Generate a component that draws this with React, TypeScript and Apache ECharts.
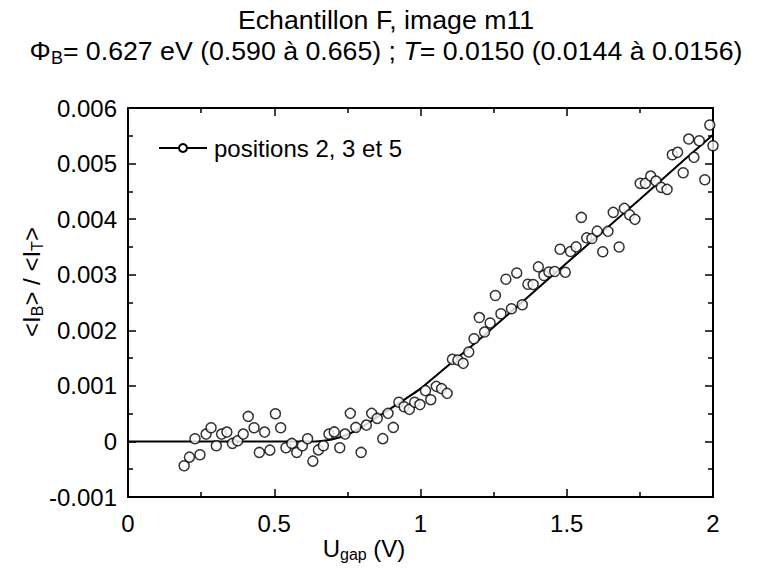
import React, { useEffect, useRef } from "react";
import * as echarts from "echarts";

// Measured points (U_gap in V, <I_B>/<I_T>)
const pointX = [
  0.192, 0.21, 0.229, 0.246, 0.267, 0.284, 0.302, 0.32, 0.338, 0.357,
  0.375, 0.394, 0.411, 0.431, 0.449, 0.467, 0.485, 0.504, 0.522, 0.54,
  0.56, 0.577, 0.596, 0.614, 0.632, 0.651, 0.668, 0.687, 0.705, 0.724,
  0.742, 0.76, 0.779, 0.797, 0.815, 0.833, 0.852, 0.871, 0.889, 0.907,
  0.926, 0.944, 0.962, 0.98, 0.998, 1.017, 1.035, 1.054, 1.072, 1.091,
  1.109, 1.128, 1.146, 1.165, 1.183, 1.201, 1.219, 1.238, 1.256, 1.275,
  1.292, 1.311, 1.329, 1.348, 1.367, 1.385, 1.403, 1.422, 1.439, 1.459,
  1.477, 1.495, 1.513, 1.532, 1.55, 1.568, 1.586, 1.604, 1.623, 1.641,
  1.659, 1.679, 1.697, 1.715, 1.733, 1.751, 1.769, 1.787, 1.805, 1.823,
  1.843, 1.861, 1.879, 1.898, 1.917, 1.935, 1.953, 1.972, 1.989, 2.0,
];
const pointY = [
  -0.000438, -0.000283, 0.000049, -0.00024, 0.000132, 0.000247, -0.000077, 0.000132, 0.000168, -0.000036,
  0.000013, 0.000132, 0.00045, 0.000247, -0.000198, 0.000168, -0.000157, 0.000499, 0.000247, -0.000114,
  -0.000036, -0.000198, -0.000077, 0.000049, -0.000355, -0.000153, -0.000077, 0.000132, 0.000171, -0.000114,
  0.000132, 0.000505, 0.000252, -0.000198, 0.000294, 0.000505, 0.000414, 0.00005, 0.000505, 0.000252,
  0.000706, 0.000625, 0.000577, 0.000706, 0.000663, 0.000914, 0.000751, 0.000991, 0.00095, 0.000865,
  0.001477, 0.001465, 0.001405, 0.001609, 0.001847, 0.002229, 0.001968, 0.002131, 0.002625, 0.002297,
  0.002919, 0.002387, 0.003032, 0.002459, 0.002829, 0.002823, 0.003141, 0.002986, 0.00305, 0.003058,
  0.003459, 0.003045, 0.003418, 0.003501, 0.004031, 0.003663, 0.003652, 0.003784, 0.003414, 0.00378,
  0.004121, 0.003499, 0.004193, 0.004077, 0.003996, 0.004643, 0.004643, 0.004775, 0.004685, 0.004571,
  0.004535, 0.005159, 0.005202, 0.004834, 0.005441, 0.005112, 0.005411, 0.004708, 0.005694, 0.005321,
];

// Fitted curve
const fitX = [0, 0.5, 0.627, 0.65, 0.7, 0.75, 0.8, 0.85, 0.9, 0.95, 1.0, 1.05, 1.1, 1.2, 1.3, 1.4, 1.5, 1.6, 1.7, 1.8, 1.9, 2.0];
const fitY = [0, 0, 0, 0.000004, 0.00004, 0.00012, 0.00026, 0.00043, 0.0006, 0.00077, 0.00095, 0.00117, 0.00139, 0.00183, 0.00229, 0.00275, 0.00321, 0.00367, 0.00413, 0.00459, 0.00506, 0.00552];

const seriesName = "positions 2, 3 et 5";
const titleLine1 = "Echantillon F, image m11";
const FONT = "'Liberation Sans', Arial, Helvetica, sans-serif";

export default function App() {
  const ref = useRef<HTMLDivElement>(null);
  useEffect(() => {
    if (!ref.current) return;
    const chart = echarts.init(ref.current, undefined, { renderer: "svg" });
    const axisCommon = {
      type: "value" as const,
      axisLine: { show: true, onZero: false, lineStyle: { color: "#000", width: 2 } },
      axisTick: { show: true, inside: true, length: 8, lineStyle: { color: "#000", width: 1.5 } },
      minorTick: { show: true, splitNumber: 2, length: 5, lineStyle: { color: "#000", width: 1.5 } },
      splitLine: { show: false },
      minorSplitLine: { show: false },
    };
    const label = { color: "#000", fontSize: 24, fontFamily: FONT };
    const subStyle = { fontSize: 16, lineHeight: 16, padding: [12, 0, 0, 0], fontFamily: FONT, fill: "#000" };
    chart.setOption({
      animation: false,
      backgroundColor: "#fff",
      textStyle: { fontFamily: FONT },
      grid: { left: 128, right: 44, top: 108, bottom: 77, containLabel: false },
      legend: {
        show: true,
        left: 153,
        top: 131,
        itemWidth: 48,
        itemHeight: 10,
        itemGap: 10,
        data: [seriesName],
        textStyle: { ...label, padding: [0, 0, 0, 2] },
      },
      xAxis: [
        {
          ...axisCommon,
          min: 0,
          max: 2,
          interval: 0.5,
          position: "bottom",
          axisLabel: { ...label, margin: 14, formatter: (v: number) => String(v) },
        },
        {
          ...axisCommon,
          min: 0,
          max: 2,
          interval: 0.5,
          position: "top",
          axisLabel: { show: false },
        },
      ],
      yAxis: [
        {
          ...axisCommon,
          min: -0.001,
          max: 0.006,
          interval: 0.001,
          position: "left",
          axisLabel: {
            ...label,
            margin: 11,
            formatter: (v: number) => (Math.abs(v) < 1e-12 ? "0" : String(+v.toFixed(3))),
          },
        },
        {
          ...axisCommon,
          min: -0.001,
          max: 0.006,
          interval: 0.001,
          position: "right",
          axisLabel: { show: false },
        },
      ],
      graphic: [
        {
          type: "text",
          x: 386,
          y: 20,
          style: {
            text: titleLine1,
            fontSize: 26.7,
            fontFamily: FONT,
            fill: "#000",
            align: "center",
            verticalAlign: "middle",
          },
        },
        {
          type: "text",
          x: 386,
          y: 51,
          style: {
            text: "Φ{sub|B}= 0.627 eV (0.590 à 0.665) ; {it|T}= 0.0150 (0.0144 à 0.0156)",
            fontSize: 26.7,
            fontFamily: FONT,
            fill: "#000",
            align: "center",
            verticalAlign: "middle",
            rich: {
              sub: { fontSize: 18, lineHeight: 18, padding: [13, 0, 0, 0], fontFamily: FONT, fill: "#000" },
              it: { fontSize: 26.7, fontStyle: "italic", fontFamily: FONT, fill: "#000" },
            },
          },
        },
        {
          type: "text",
          x: 364,
          y: 548,
          style: {
            text: "U{sub|gap} (V)",
            fontSize: 24,
            fontFamily: FONT,
            fill: "#000",
            align: "center",
            verticalAlign: "middle",
            rich: { sub: subStyle },
          },
        },
        {
          type: "text",
          x: 31,
          y: 282,
          rotation: Math.PI / 2,
          style: {
            text: "<I{sub|B}> / <I{sub|T}>",
            fontSize: 24,
            fontFamily: FONT,
            fill: "#000",
            align: "center",
            verticalAlign: "middle",
            rich: { sub: subStyle },
          },
        },
      ],
      series: [
        {
          name: seriesName,
          type: "line",
          xAxisIndex: 0,
          yAxisIndex: 0,
          data: fitX.map((x, i) => [x, fitY[i]]),
          showSymbol: false,
          symbol: "circle",
          symbolSize: 9,
          smooth: 0.3,
          lineStyle: { color: "#000", width: 2 },
          itemStyle: { color: "#fff", borderColor: "#000", borderWidth: 1.5 },
          z: 2,
        },
        {
          name: "points",
          type: "scatter",
          xAxisIndex: 0,
          yAxisIndex: 0,
          data: pointX.map((x, i) => [x, pointY[i]]),
          symbol: "circle",
          symbolSize: 10,
          itemStyle: { color: "#fff", borderColor: "#000", borderWidth: 1.5 },
          z: 3,
        },
      ],
    });
    return () => chart.dispose();
  }, []);
  return (
    <div
      ref={ref}
      style={{ position: "fixed", left: 0, top: 0, width: 757, height: 574, background: "#fff" }}
    />
  );
}
